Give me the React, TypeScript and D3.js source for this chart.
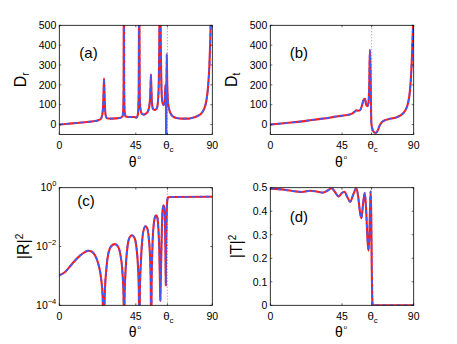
import React from 'react';
import * as d3 from 'd3';

const W = 457;
const H = 344;
const THETA_C = 63.6;
const FONT = 'Liberation Sans, Arial, Helvetica, sans-serif';

// (a) reflected D_r
const thetaA = [0, 5, 10, 15, 20, 23, 24.5, 25.3, 25.8, 26.1, 26.3, 26.5, 26.8, 27.2, 28, 30, 33, 36, 37.2, 37.6, 37.85, 38.0, 38.15, 38.4, 38.8, 39.6, 42, 44, 45.5, 46.2, 46.7, 47.0, 47.3, 47.7, 48.3, 49.5, 51, 52.4, 53.2, 53.7, 53.9, 54.1, 54.6, 55.2, 56.5, 57.5, 58.3, 58.8, 59.2, 59.7, 60.2, 60.7, 61.3, 61.9, 62.3, 62.5, 62.7, 62.85, 63.0, 63.2, 63.5, 64.0, 64.7, 65.5, 67, 69, 72, 76, 79, 81, 83, 85, 86.5, 87.5, 88.3, 88.8, 89.3, 90];
const drA = [0, 4, 8, 12, 17, 22, 30, 50, 100, 180, 232, 180, 100, 50, 32, 30, 31, 34, 42, 70, 200, 900, 200, 70, 45, 39, 38, 38, 35, 50, 150, 800, 150, 80, 58, 50, 55, 72, 110, 200, 252, 200, 100, 78, 74, 85, 150, 400, 900, 400, 160, 110, 98, 110, 170, 200, 150, -100, 150, 355, 200, 110, 75, 55, 40, 33, 30, 30, 35, 42, 52, 75, 120, 190, 300, 420, 600, 800];

// (b) transmitted D_t
const thetaB = [0, 10, 20, 26, 33, 38, 42.5, 47, 51, 53, 54, 55, 56.3, 57.5, 58.6, 59.4, 60.2, 61.0, 61.6, 62.1, 62.5, 62.8, 63.1, 63.4, 64.0, 65.0, 66.4, 67.5, 68.5, 70, 72, 74, 79, 82, 83.5, 85, 86.5, 87.5, 88.3, 88.9, 89.4, 89.8, 90];
const dtB = [0, 8, 16, 23, 30, 36, 42, 47, 54, 65, 72, 70, 72, 95, 125, 130, 100, 93, 110, 200, 375, 300, 150, 10, -20, -38, -42, -28, -8, 12, 22, 27, 36, 48, 58, 75, 110, 160, 240, 340, 460, 560, 650];

// (c) |R|^2
const thetaC = [0, 3, 6, 9, 12, 15, 17, 19, 21, 23, 24.5, 25.5, 26.1, 26.7, 27.6, 28.9, 30.5, 32.7, 34.5, 36, 37.2, 37.8, 38.1, 38.4, 39.1, 40.2, 41.5, 42.8, 44.2, 45.3, 46.3, 46.8, 47.1, 47.4, 48.0, 49.0, 50.0, 50.8, 51.7, 52.6, 53.4, 53.8, 54.05, 54.3, 54.8, 55.6, 56.4, 57.0, 57.6, 58.3, 58.9, 59.3, 59.45, 59.6, 60.1, 60.7, 61.3, 61.8, 62.2, 62.5, 62.65, 62.8, 63.2, 63.6, 64.0, 66, 90];
const rC = [1.05e-3, 1.3e-3, 2.0e-3, 3.2e-3, 4.8e-3, 6.4e-3, 7.2e-3, 6.8e-3, 5.0e-3, 2.5e-3, 9e-4, 2e-4, 1e-6, 2e-4, 1.5e-3, 6e-3, 1.02e-2, 1.2e-2, 1.0e-2, 5e-3, 1.2e-3, 2e-4, 1e-6, 2e-4, 2e-3, 1.1e-2, 2.1e-2, 2.4e-2, 2.0e-2, 1.0e-2, 2e-3, 3e-4, 1e-6, 3e-4, 3e-3, 2.2e-2, 4.3e-2, 4.9e-2, 4.2e-2, 2e-2, 4e-3, 5e-4, 1e-6, 5e-4, 1e-2, 6e-2, 1.05e-1, 1.15e-1, 1.0e-1, 4e-2, 5e-3, 3e-4, 1.4e-4, 4e-4, 1e-2, 1.6e-1, 2.5e-1, 2.0e-1, 5e-2, 3e-3, 4.8e-4, 5e-3, 1.5e-1, 4.0e-1, 4.7e-1, 4.85e-1, 4.95e-1];

// (d) |T|^2
const thetaD = [0, 5, 10, 15, 20, 25, 29, 33, 36, 38.4, 40.5, 42.8, 45, 46.6, 48, 50.2, 52, 54, 55.2, 56.2, 57.2, 58.2, 59.3, 60.2, 61.0, 61.6, 62.2, 62.9, 63.3, 63.7, 64.1, 64.5, 70, 90];
const tD = [0.496, 0.494, 0.49, 0.485, 0.482, 0.487, 0.484, 0.479, 0.488, 0.498, 0.483, 0.463, 0.478, 0.483, 0.465, 0.44, 0.47, 0.498, 0.46, 0.4, 0.37, 0.43, 0.478, 0.4, 0.28, 0.232, 0.3, 0.485, 0.4, 0.15, 0.01, 0, 0, 0];

const xTicks = [0, 45, THETA_C, 90];
const dTicks = [0, 100, 200, 300, 400, 500];
const logTicks = [1e-4, 1e-2, 1];
const tTicks = [0, 0.1, 0.2, 0.3, 0.4, 0.5];

type Box = { l: number; r: number; t: number; b: number };

function Panel(props: {
  box: Box;
  y: any;
  yTicks: number[];
  yTickLabel: (v: number) => React.ReactNode;
  xs: number[];
  ys: number[];
  tag: string;
  tagX: number;
  tagY: number;
  ylabel: React.ReactNode;
  ylabelX: number;
  id: string;
}) {
  const { box, y, xs, ys } = props;
  const x = d3.scaleLinear().domain([0, 90]).range([box.l, box.r]);
  const pts: [number, number][] = xs.map((t, i) => [t, ys[i]]);
  const line = d3.line<[number, number]>()
    .x(d => x(d[0]))
    .y(d => y(d[1]))
    .curve(d3.curveMonotoneX);
  const path = line(pts) || '';
  const tl = 2;
  const cy = (box.t + box.b) / 2;
  return (
    <g fontFamily={FONT}>
      <defs>
        <clipPath id={props.id}>
          <rect x={box.l} y={box.t} width={box.r - box.l} height={box.b - box.t} />
        </clipPath>
      </defs>
      <line x1={x(THETA_C)} x2={x(THETA_C)} y1={box.t} y2={box.b}
        stroke="#777" strokeWidth={0.8} strokeDasharray="1,2" />
      <g clipPath={`url(#${props.id})`}>
        <path d={path} fill="none" stroke="#ff1a1a" strokeWidth={2.1} />
        <path d={path} fill="none" stroke="#3c5cff" strokeWidth={1.7} strokeDasharray="4,3" />
      </g>
      <rect x={box.l} y={box.t} width={box.r - box.l} height={box.b - box.t}
        fill="none" stroke="#000" strokeWidth={0.8} />
      {xTicks.map((t, i) => (
        <g key={'xt' + i}>
          <line x1={x(t)} x2={x(t)} y1={box.b} y2={box.b - tl} stroke="#000" strokeWidth={0.6} />
          <line x1={x(t)} x2={x(t)} y1={box.t} y2={box.t + tl} stroke="#000" strokeWidth={0.6} />
        </g>
      ))}
      {props.yTicks.map((v, i) => (
        <g key={'yt' + i}>
          <line x1={box.l} x2={box.l + tl} y1={y(v)} y2={y(v)} stroke="#000" strokeWidth={0.6} />
          <line x1={box.r} x2={box.r - tl} y1={y(v)} y2={y(v)} stroke="#000" strokeWidth={0.6} />
          <text x={box.l - 3} y={y(v)} dy="0.36em" textAnchor="end" fontSize={10.5}>{props.yTickLabel(v)}</text>
        </g>
      ))}
      {[0, 45, 90].map(t => (
        <text key={'xl' + t} x={x(t)} y={box.b + 14.5} textAnchor="middle" fontSize={10.5}>{t}</text>
      ))}
      <text x={x(THETA_C) + 1} y={box.b + 14.5} textAnchor="middle" fontSize={11.5}>
        θ<tspan fontSize={8} dy={3}>c</tspan>
      </text>
      <text x={(box.l + box.r) / 2 - 1} y={box.b + 32} textAnchor="middle" fontSize={14}>
        θ<tspan fontSize={6} dy={-8} dx={1}>o</tspan>
      </text>
      <text transform={`translate(${props.ylabelX},${cy}) rotate(-90)`} textAnchor="middle" fontSize={16}>
        {props.ylabel}
      </text>
      <text x={props.tagX} y={props.tagY} fontSize={15}>{props.tag}</text>
    </g>
  );
}

const boxA: Box = { l: 59.3, r: 212.3, t: 25.3, b: 134.5 };
const boxB: Box = { l: 270.3, r: 413.7, t: 25.3, b: 134.5 };
const boxC: Box = { l: 59.3, r: 212.3, t: 187.7, b: 305.3 };
const boxD: Box = { l: 270.3, r: 413.7, t: 187.7, b: 305.3 };

export default function App() {
  const yA = d3.scaleLinear().domain([-50, 500]).range([boxA.b, boxA.t]);
  const yB = d3.scaleLinear().domain([-50, 500]).range([boxB.b, boxB.t]);
  const yC = d3.scaleLog().domain([1e-4, 1]).range([boxC.b, boxC.t]).clamp(false);
  const yD = d3.scaleLinear().domain([0, 0.5]).range([boxD.b, boxD.t]);
  const plain = (v: number) => String(v);
  const expLabel = (v: number) => {
    const e = Math.round(Math.log10(v));
    return (
      <>
        10<tspan fontSize={7.5} dy={-5}>{e === 0 ? '0' : '\u2212' + String(-e)}</tspan>
      </>
    );
  };
  return (
    <svg width={W} height={H} style={{ position: 'absolute', left: 0, top: 0, background: '#fff' }}>
      <rect width={W} height={H} fill="#fff" />
      <Panel id="ca" box={boxA} y={yA} yTicks={dTicks} yTickLabel={plain} xs={thetaA} ys={drA}
        tag="(a)" tagX={79.3} tagY={57.5} ylabelX={25.5}
        ylabel={<>D<tspan fontSize={10} dy={3}>r</tspan></>} />
      <Panel id="cb" box={boxB} y={yB} yTicks={dTicks} yTickLabel={plain} xs={thetaB} ys={dtB}
        tag="(b)" tagX={289.7} tagY={57.5} ylabelX={236.5}
        ylabel={<>D<tspan fontSize={10} dy={3}>t</tspan></>} />
      <Panel id="cc" box={boxC} y={yC} yTicks={logTicks} yTickLabel={expLabel} xs={thetaC} ys={rC}
        tag="(c)" tagX={77.3} tagY={205.5} ylabelX={29}
        ylabel={<>|R|<tspan fontSize={10} dy={-6}>2</tspan></>} />
      <Panel id="cd" box={boxD} y={yD} yTicks={tTicks} yTickLabel={plain} xs={thetaD} ys={tD}
        tag="(d)" tagX={289.7} tagY={222} ylabelX={242}
        ylabel={<>|T|<tspan fontSize={10} dy={-6}>2</tspan></>} />
    </svg>
  );
}
